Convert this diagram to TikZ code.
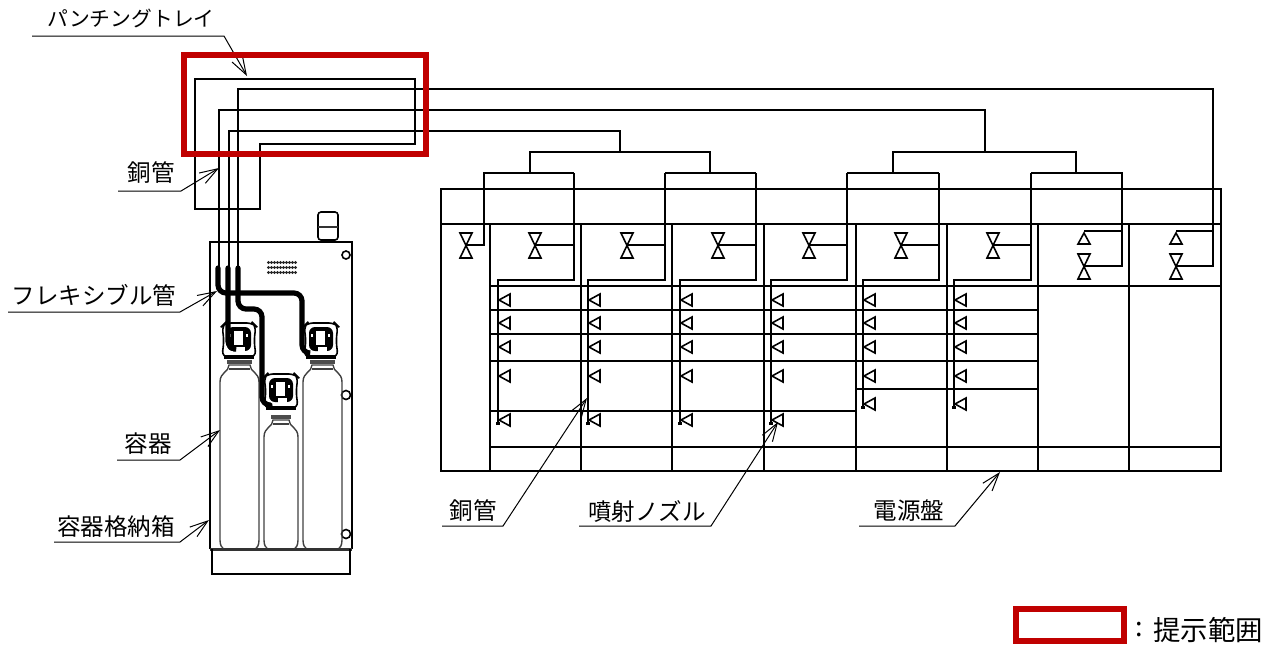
\documentclass[tikz,border=0pt]{standalone}
\usepackage{fontspec}
\setmainfont{Noto Sans CJK JP}
\usetikzlibrary{arrows.meta}
\definecolor{markred}{RGB}{192,0,0}
\tikzset{
    thinline/.style={line width=0.8pt, black},
    trayline/.style={line width=1.3pt, black},
    pipeline/.style={line width=0.75pt, black},
    tubeline/.style={line width=2.6pt, black, rounded corners=4pt, line cap=round},
    bottleline/.style={line width=0.7pt, black!75},
    redframe/.style={line width=3pt, markred},
    leader/.style={line width=0.5pt, black, -{Straight Barb[length=9pt,width=6pt]}},
    labeltext/.style={inner sep=0pt, font=\fontsize{11.75}{14}\selectfont}
}
\begin{document}
\begin{tikzpicture}[x=0.5pt, y=-0.5pt]
    \useasboundingbox (0,0) rectangle (1280,644);

    % Cabinet
    \draw[thinline] (210,549) -- (210,242) -- (352,242) -- (352,549);
    \draw[line width=1.5pt, black!80] (210,549) -- (352,549);
    \draw[thinline] (212,549) -- (212,574) -- (350,574) -- (350,549);
    \draw[thinline, rounded corners=1.5pt] (318,240) -- (318,212) -- (338,212) -- (338,240) -- cycle;
    \draw[line width=1.2pt, black!80] (318,227) -- (338,227);
    \draw[thinline] (318,242) -- (338,242);
    \foreach \cy/\r in {255/4, 395/4.5, 534/4.5} {
        \draw[thinline, fill=white] (346,\cy) circle ({\r*0.5pt});
    }
    \foreach \dx in {0,...,9} {
        \foreach \dy in {0,1,2} {
            \fill[black!85] (268.5+\dx*3,262.5+\dy*5) circle (0.85pt);
        }
    }

    % Bottles
    \foreach \xl/\xr/\ny in {220/259/362, 264/298/417, 303/342/362} {
        \draw[bottleline] (\xl+3,548) .. controls (\xl,546) and (\xl,543) .. (\xl,536) -- (\xl,\ny+20)
            .. controls (\xl,\ny+10) and (\xl+9,\ny+10) .. (\xl+9,\ny+3) -- (\xr-9,\ny+3)
            .. controls (\xr-9,\ny+10) and (\xr,\ny+10) .. (\xr,\ny+20) -- (\xr,536)
            .. controls (\xr,543) and (\xr,546) .. (\xr-3,548);
        \draw[bottleline] (\xl+9,\ny+7) -- (\xr-9,\ny+7);
        \fill[black!70] (\xl+7,\ny-2) rectangle (\xr-7,\ny+2);
    }

    % Container valves
    \foreach \hx/\hy in {239/322, 281/373, 321/322} {
        \draw[thinline, fill=white, rounded corners=3pt] (\hx-17,\hy+4) -- (\hx-14,\hy+1) -- (\hx+14,\hy+1) -- (\hx+17,\hy+4)
            -- (\hx+15,\hy+18) -- (\hx+17,\hy+35) -- (\hx-17,\hy+35) -- (\hx-15,\hy+18) -- cycle;
        \fill[black, rounded corners=3pt] (\hx-12,\hy+5) rectangle (\hx+12,\hy+29);
        \fill[black] (\hx-15,\hy+33) rectangle (\hx+15,\hy+37);
        \fill[white] (\hx-5,\hy+9) rectangle (\hx+4,\hy+23);
        \fill[white] (\hx-3,\hy+25) rectangle (\hx+6,\hy+31);
        \fill[white] (\hx-10,\hy+12) rectangle (\hx-8,\hy+15);
        \fill[white] (\hx+7,\hy+12) rectangle (\hx+9,\hy+15);
    }

    % Flexible tubes
    \draw[tubeline] (218,268) -- (218,293) -- (302,293) -- (302,353) -- (308,353);
    \draw[tubeline] (228,268) -- (228,349) -- (234,349);
    \draw[tubeline] (238,268) -- (238,309) -- (262,309) -- (262,405) -- (270,405);

    % Panel frame
    \draw[thinline] (441,471) -- (441,189) -- (1221,189) -- (1221,471) -- cycle;
    \draw[thinline] (441,224) -- (1221,224);
    \foreach \cx in {490,581,672,764,856,947,1038,1129} {
        \draw[thinline] (\cx,224) -- (\cx,471);
    }
    \foreach \ry in {286,447} {
        \draw[thinline] (490,\ry) -- (1221,\ry);
    }
    \foreach \ry in {310,334,361} {
        \draw[thinline] (490,\ry) -- (1038,\ry);
    }
    \draw[thinline] (490,411) -- (856,411);
    \draw[thinline] (856,389) -- (1038,389);

    % Copper pipes
    \draw[pipeline] (238,267) -- (238,89) -- (1213,89) -- (1213,266) -- (1176,266);
    \draw[pipeline] (219,267) -- (219,110) -- (985,110) -- (985,152);
    \draw[pipeline] (229,267) -- (229,131) -- (620,131) -- (620,152);
    \draw[pipeline] (530,173) -- (530,152) -- (710,152) -- (710,173);
    \draw[pipeline] (893,173) -- (893,152) -- (1076,152) -- (1076,173);
    \draw[pipeline] (466,245) -- (484,245) -- (484,173) -- (574,173);
    \draw[pipeline] (665,173) -- (756,173);
    \draw[pipeline] (847,173) -- (939,173);
    \draw[pipeline] (1031,173) -- (1122,173) -- (1122,266) -- (1084,266);
    \draw[pipeline] (1084,231) -- (1122,231);
    \draw[pipeline] (1176,231) -- (1213,231);

    % Selector valves
    \foreach \vx in {466,535,627,718,809,901,993,1084,1176} {
        \ifnum\vx>1000
            \draw[thinline] (\vx,233) -- (\vx+6,244) -- (\vx-6,244) -- cycle;
            \draw[thinline] (\vx-6,254) -- (\vx+6,254) -- (\vx-6,279) -- (\vx+6,279) -- cycle;
        \else
            \draw[thinline] (\vx-6,233) -- (\vx+6,233) -- (\vx-6,258) -- (\vx+6,258) -- cycle;
        \fi
    }

    % Branches and nozzles
    \foreach \tx/\vx/\px/\ly in {574/535/498/420, 665/627/588/420, 756/718/680/420, 847/809/771/420, 939/901/863/404, 1031/993/954/404} {
        \draw[pipeline] (\vx,245) -- (\tx,245);
        \draw[pipeline] (\tx,173) -- (\tx,280) -- (\px,280) -- (\px,\ly+3);
        \fill[black] (\px-2,\ly+1.5) rectangle (\px+1.5,\ly+5);
        \foreach \ny in {300,323,347,376,\ly} {
            \draw[thinline] (\px+1,\ny) -- (\px+12,\ny-6) -- (\px+12,\ny+6) -- cycle;
        }
    }

    % Labels with leaders
    \foreach \name/\txt/\tx/\ty/\ax/\ay/\bx/\tipx/\tipy in {
        copper/銅管/151/173/118/191/181/219/168,
        flex/フレキシブル管/94/295/8/312/180/217/291,
        bottle/容器/148/444/117/460/180/220/430,
        box/容器格納箱/116/527/54/542/180/209/520,
        pipe/銅管/473/511/442/526/503/587/398,
        nozzle/噴射ノズル/647/511/579/526/711/778/422,
        power/電源盤/909/511/859/526/955/1000/472} {
        \node[labeltext] (lab\name) at (\tx,\ty) {\txt};
        \coordinate (from\name) at (\ax,\ay);
        \coordinate (bend\name) at (\bx,\ay);
        \coordinate (tip\name) at (\tipx,\tipy);
        \draw[leader] (from\name) -- (bend\name) -- (tip\name);
    }
    \node[labeltext, font=\fontsize{10.4}{13}\selectfont] (labtray) at (131,18) {パンチングトレイ};
    \coordinate (fromtray) at (32,36);
    \coordinate (bendtray) at (224,36);
    \coordinate (tiptray) at (247,76);
    \draw[leader] (fromtray) -- (bendtray) -- (tiptray);

    % Punching tray
    \draw[trayline] (195,79) -- (415,79) -- (415,144) -- (260,144) -- (260,209) -- (195,209) -- cycle;

    % Presented range
    \draw[redframe] (184,55) rectangle (426,154);
    \draw[redframe] (1016,609) rectangle (1124,641);
    \node[labeltext, font=\fontsize{13.5}{16}\selectfont] (labcolon) at (1139,630) {:};
    \node[labeltext, anchor=west, font=\fontsize{13.7}{16}\selectfont] (labrange) at (1153,630) {提示範囲};
\end{tikzpicture}
\end{document}
